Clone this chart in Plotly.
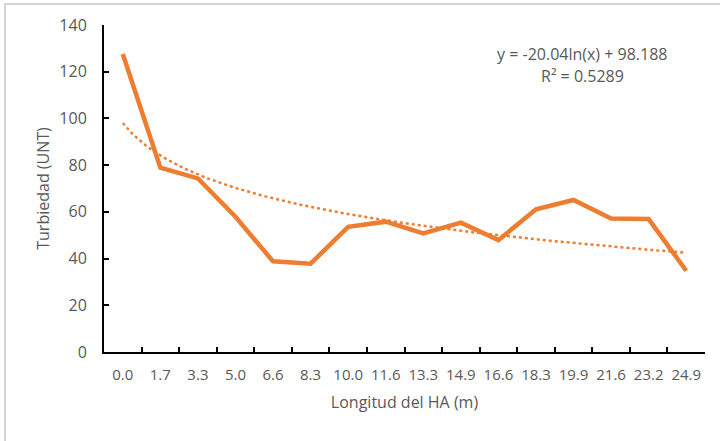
import numpy as np
import plotly.graph_objects as go

categories = ["0.0", "1.7", "3.3", "5.0", "6.6", "8.3", "10.0", "11.6",
              "13.3", "14.9", "16.6", "18.3", "19.9", "21.6", "23.2", "24.9"]
turbidity = [127.6, 78.9, 74.3, 57.9, 38.8, 37.8, 53.6, 55.8,
             50.8, 55.4, 47.9, 61.1, 65.1, 57.2, 56.9, 34.8]
y_ticks = [0, 20, 40, 60, 80, 100, 120, 140]
eq_text = "y = -20.04ln(x) + 98.188"
r2_text = "R² = 0.5289"

ORANGE = "#ED7D31"
GREY = "#595959"
FONT = "Open Sans"

idx = np.arange(1, len(turbidity) + 1)
slope, intercept = np.polyfit(np.log(idx), turbidity, 1)
xs = np.linspace(1, len(turbidity), 200)
trend = slope * np.log(xs) + intercept

fig = go.Figure()
fig.add_trace(go.Scatter(x=categories, y=turbidity, mode="lines",
                         line=dict(color=ORANGE, width=4.5), xaxis="x", yaxis="y",
                         showlegend=False, hoverinfo="skip"))
fig.add_trace(go.Scatter(x=xs, y=trend, mode="lines",
                         line=dict(color=ORANGE, width=2.5, dash="dot"),
                         xaxis="x2", yaxis="y", showlegend=False, hoverinfo="skip"))

W, H = 720, 441
L, R, T, B = 104, 15, 25, 89
PW, PH = W - L - R, H - T - B


def px(x):
    return (x - L) / PW


def py(y):
    return 1 - (y - T) / PH


fig.update_layout(
    width=W, height=H,
    margin=dict(l=L, r=R, t=T, b=B, autoexpand=False),
    paper_bgcolor="white", plot_bgcolor="white",
    font=dict(family=FONT, color=GREY, size=16),
    xaxis=dict(type="category", tickson="boundaries", ticks="inside", ticklen=5,
               tickwidth=1.5, tickcolor="black", showline=True, linecolor="black",
               linewidth=2, showgrid=False, zeroline=False, tickangle=0, automargin=False,
               tickfont=dict(size=15, color=GREY), ticklabelstandoff=8,
               title=dict(text="Longitud del HA (m)", font=dict(size=16, color=GREY), standoff=14),
               range=[-0.5, len(categories) - 0.5]),
    xaxis2=dict(overlaying="x", range=[0.5, len(categories) + 0.5], visible=False),
    yaxis=dict(range=[0, 140], tickvals=y_ticks, ticks="inside", ticklen=5,
               tickwidth=1.5, tickcolor="black", showline=True, linecolor="black",
               linewidth=2, showgrid=False, zeroline=False, automargin=False,
               tickfont=dict(size=16, color=GREY), ticklabelstandoff=12,
               title=dict(text="Turbiedad (UNT)", font=dict(size=16, color=GREY), standoff=6)),
    annotations=[
        dict(text=eq_text, x=px(582), y=py(54),
             xref="paper", yref="paper", showarrow=False, xanchor="center", yanchor="middle",
             font=dict(size=16, color=GREY)),
        dict(text=r2_text, x=px(582), y=py(76),
             xref="paper", yref="paper", showarrow=False, xanchor="center", yanchor="middle",
             font=dict(size=16, color=GREY)),
    ],
    shapes=[
        dict(type="rect", xref="paper", yref="paper",
             x0=px(5), x1=px(W + 20), y0=py(4), y1=py(H + 20),
             line=dict(color="#D4D4D4", width=2), fillcolor="rgba(0,0,0,0)", layer="below"),
    ],
)
fig.write_html("out.html", config={"displayModeBar": False},
               post_script="document.body.style.margin='0';document.body.style.padding='0';")
